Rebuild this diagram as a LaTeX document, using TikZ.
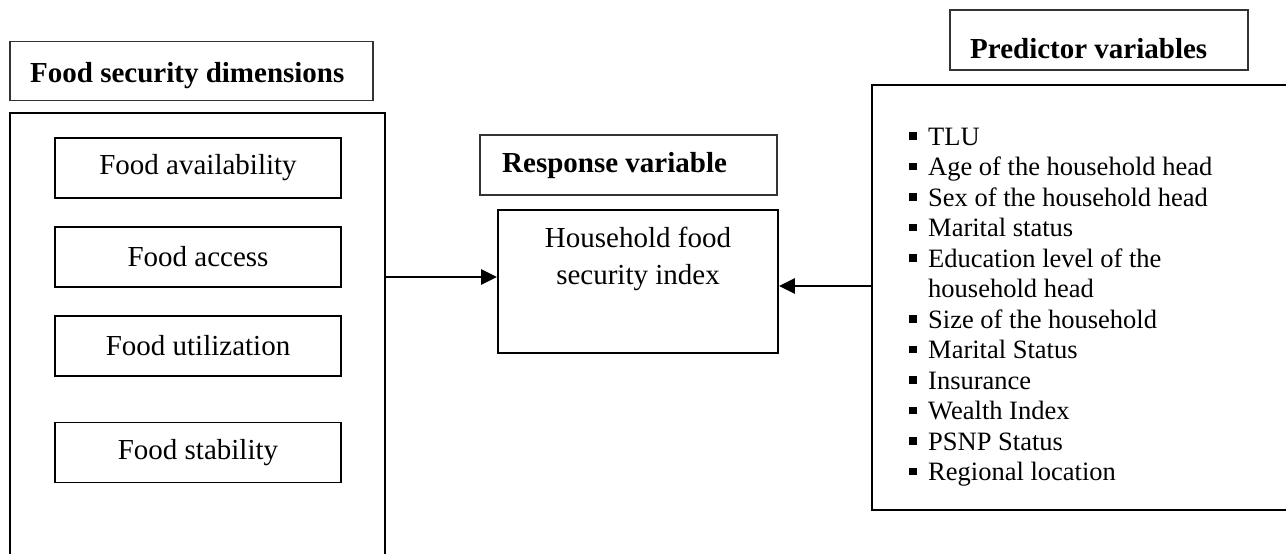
\documentclass[tikz,border=0pt]{standalone}
\usepackage{fontspec}
\setmainfont{Liberation Serif}
\usetikzlibrary{arrows.meta}
\begin{document}
\begin{tikzpicture}[x=1pt,y=-1pt,
  big/.style={draw=black,line width=2.8pt,inner sep=0pt},
  title/.style={draw=black!80,line width=1.6pt,inner sep=0pt},
  titletext/.style={anchor=base west,inner sep=0pt,font=\fontsize{29}{34}\selectfont\bfseries},
  dimbox/.style={draw=black,line width=1.6pt,minimum width=286pt,minimum height=60pt,inner sep=0pt,font=\fontsize{29}{34}\selectfont},
  item/.style={anchor=base west,inner sep=0pt,font=\fontsize{26.5}{30}\selectfont},
  bul/.style={fill=black,minimum size=7.5pt,inner sep=0pt},
  conn/.style={line width=2.6pt,-{Triangle[length=16pt,width=15pt]}}]
\useasboundingbox (0,0) rectangle (1286,554);
\clip (0,0) rectangle (1286,554);
% left column
\node[title,minimum width=363pt,minimum height=59pt] (tdim) at (191.5,71) {};
\node[titletext] (tdimtext) at (30,82) {Food security dimensions};
\node[big,minimum width=375pt,minimum height=500pt] (dims) at (197.5,363) {};
\node[dimbox] (avail) at (198,168) {Food availability};
\node[dimbox] (access) at (198,257) {Food access};
\node[dimbox] (util) at (198,346) {Food utilization};
\node[dimbox] (stab) at (198,452.5) {Food stability};
% middle
\node[title,minimum width=297pt,minimum height=60pt] (tresp) at (628.5,165) {};
\node[titletext] (tresptext) at (502,172) {Response variable};
\node[draw=black,line width=1.8pt,minimum width=280pt,minimum height=143pt,inner sep=0pt] (hh) at (638,281.5) {};
\node[anchor=base,inner sep=0pt,font=\fontsize{29}{34}\selectfont] (hh1) at (638,247) {Household food};
\node[anchor=base,inner sep=0pt,font=\fontsize{29}{34}\selectfont] (hh2) at (638,284) {security index};
% right column
\node[title,minimum width=298pt,minimum height=60pt] (tpred) at (1099,40) {};
\node[titletext] (tpredtext) at (970,58) {Predictor variables};
\node[big,minimum width=440pt,minimum height=425pt] (pred) at (1092,297.5) {};
\foreach \t [count=\i from 0] in {TLU,Age of the household head,Sex of the household head,Marital status,Education level of the,,Size of the household,Marital Status,Insurance,Wealth Index,PSNP Status,Regional location}{
  \node[item] (p\i) at (928,145+30.5*\i) {\t};
}
\node[item] (p5) at (928,145+30.5*5) {household head};
\foreach \i in {0,1,2,3,4,6,7,8,9,10,11}{
  \node[bul] (b\i) at (913,145+30.5*\i-9) {};
}
% connectors
\coordinate (la) at (385,277);
\coordinate (ra) at (872,286);
\draw[conn] (la) -- (hh.west |- la);
\draw[conn] (ra) -- (hh.east |- ra);
\end{tikzpicture}
\end{document}
